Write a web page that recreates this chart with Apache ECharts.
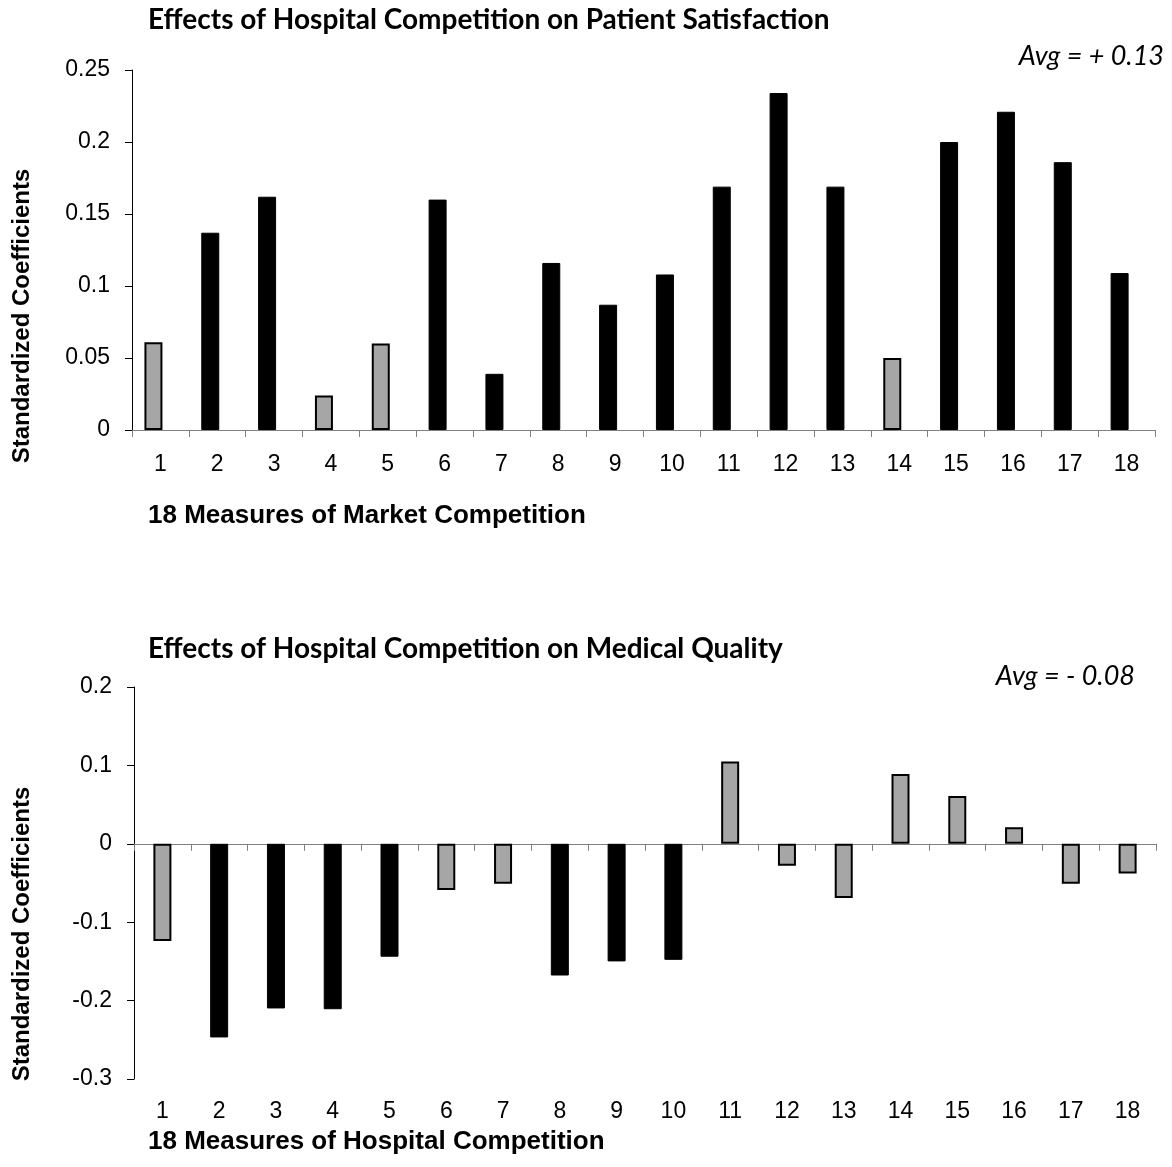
<!DOCTYPE html>
<html>
<head>
<meta charset="utf-8">
<script src="https://cdn.jsdelivr.net/npm/echarts@6/dist/echarts.min.js"></script>
<style>
html,body{margin:0;padding:0;background:#fff;}
#c{width:1172px;height:1167px;}
</style>
</head>
<body>
<div id="c"></div>
<script>
// ---------- data ----------
var categories = ['1','2','3','4','5','6','7','8','9','10','11','12','13','14','15','16','17','18'];
var satisfactionValues = [0.061, 0.137, 0.162, 0.024, 0.060, 0.160, 0.039, 0.116, 0.087, 0.108, 0.169, 0.234, 0.169, 0.050, 0.200, 0.221, 0.186, 0.109];
// 1 = significant (black), 0 = not significant (gray)
var satisfactionSignificant = [0,1,1,0,0,1,1,1,1,1,1,1,1,0,1,1,1,1];
var qualityValues = [-0.124, -0.247, -0.210, -0.211, -0.144, -0.059, -0.051, -0.168, -0.150, -0.148, 0.105, -0.028, -0.069, 0.089, 0.061, 0.021, -0.051, -0.038];
var qualitySignificant = [0,1,1,1,1,0,0,1,1,1,0,0,0,0,0,0,0,0];
var topTitle = 'Effects of Hospital Competition on Patient Satisfaction';
var bottomTitle = 'Effects of Hospital Competition on Medical Quality';
var topAvg = 'Avg = + 0.13';
var bottomAvg = 'Avg = - 0.08';
var yName = 'Standardized Coefficients';
var topXName = '18 Measures of Market Competition';
var bottomXName = '18 Measures of Hospital Competition';

// ---------- styles ----------
var GRAY = '#a6a6a6';
var labelFont = 'Liberation Sans, Arial, sans-serif';
var titleFont = 'Lato, Open Sans, sans-serif';

function splitSeries(values, sig, want) {
  return values.map(function (v, i) { return sig[i] === want ? v : '-'; });
}

var chart = echarts.init(document.getElementById('c'), null, {renderer: 'canvas'});

var axisLabelStyle = {color: '#000', fontSize: 23, fontFamily: labelFont};

var option = {
  animation: false,
  backgroundColor: '#fff',
  grid: [
    {left: 132, right: 17, top: 70, height: 360},
    {left: 134, right: 16, top: 687, height: 392}
  ],
  xAxis: [
    {
      type: 'category', gridIndex: 0, data: categories,
      axisLine: {show: true, lineStyle: {color: '#808080', width: 1}},
      axisTick: {show: true, length: 7, lineStyle: {color: '#808080'}},
      axisLabel: Object.assign({margin: 23}, axisLabelStyle),
      splitLine: {show: false}
    },
    {
      type: 'category', gridIndex: 1, data: categories, position: 'bottom',
      axisLine: {show: true, onZero: true, lineStyle: {color: '#808080', width: 1}},
      axisTick: {show: true, length: 7, lineStyle: {color: '#808080'}},
      axisLabel: {show: false},
      splitLine: {show: false}
    },
    {
      type: 'category', gridIndex: 1, data: categories, position: 'bottom',
      axisLine: {show: false, onZero: false},
      axisTick: {show: false},
      axisLabel: Object.assign({margin: 21}, axisLabelStyle),
      splitLine: {show: false}
    }
  ],
  yAxis: [
    {
      type: 'value', gridIndex: 0, min: 0, max: 0.25, interval: 0.05,
      axisLine: {show: true, lineStyle: {color: '#000'}},
      axisTick: {show: true, length: 7, lineStyle: {color: '#000'}},
      axisLabel: Object.assign({margin: 22}, axisLabelStyle),
      splitLine: {show: false}
    },
    {
      type: 'value', gridIndex: 1, min: -0.3, max: 0.2, interval: 0.1,
      axisLine: {show: true, lineStyle: {color: '#000'}},
      axisTick: {show: true, length: 7, lineStyle: {color: '#000'}},
      axisLabel: Object.assign({margin: 22}, axisLabelStyle),
      splitLine: {show: false}
    }
  ],
  series: [
    {
      type: 'bar', xAxisIndex: 0, yAxisIndex: 0, stack: 'a', barWidth: 18, barGap: '72%',
      data: splitSeries(satisfactionValues, satisfactionSignificant, 0),
      itemStyle: {color: GRAY, borderColor: '#000', borderWidth: 2}
    },
    {
      type: 'bar', xAxisIndex: 0, yAxisIndex: 0, stack: 'a', barWidth: 18, barGap: '72%',
      data: splitSeries(satisfactionValues, satisfactionSignificant, 1),
      itemStyle: {color: '#000', borderColor: '#000', borderWidth: 1}
    },
    {
      // empty spacer series: reproduces the slight left shift of the bars in the upper chart
      type: 'bar', xAxisIndex: 0, yAxisIndex: 0, stack: 'spacer', barWidth: 1, barGap: '72%',
      data: [], silent: true, itemStyle: {color: 'rgba(0,0,0,0)'}
    },
    {
      type: 'bar', xAxisIndex: 1, yAxisIndex: 1, stack: 'b', barWidth: 18,
      data: splitSeries(qualityValues, qualitySignificant, 0),
      itemStyle: {color: GRAY, borderColor: '#000', borderWidth: 2}
    },
    {
      type: 'bar', xAxisIndex: 1, yAxisIndex: 1, stack: 'b', barWidth: 18,
      data: splitSeries(qualityValues, qualitySignificant, 1),
      itemStyle: {color: '#000', borderColor: '#000', borderWidth: 1}
    }
  ],
  graphic: [
    {type: 'text', left: 148, top: 6, style: {text: topTitle, fill: '#000', font: 'bold 28px ' + titleFont}},
    {type: 'text', left: 148, top: 635, style: {text: bottomTitle, fill: '#000', font: 'bold 28px ' + titleFont}},
    {type: 'text', right: 8, top: 43, style: {text: topAvg, fill: '#000', font: 'italic 27px ' + titleFont}},
    {type: 'text', right: 37, top: 663, style: {text: bottomAvg, fill: '#000', font: 'italic 27px ' + titleFont}},
    {type: 'text', left: 148, top: 503, style: {text: topXName, fill: '#000', font: 'bold 26px ' + labelFont}},
    {type: 'text', left: 148, top: 1129, style: {text: bottomXName, fill: '#000', font: 'bold 26px ' + labelFont}},
    {type: 'text', x: 22, y: 316, rotation: Math.PI / 2,
     style: {text: yName, fill: '#000', font: 'bold 24px ' + labelFont, textAlign: 'center', textVerticalAlign: 'middle'}},
    {type: 'text', x: 22, y: 934, rotation: Math.PI / 2,
     style: {text: yName, fill: '#000', font: 'bold 24px ' + labelFont, textAlign: 'center', textVerticalAlign: 'middle'}}
  ]
};
chart.setOption(option);
</script>
</body>
</html>
